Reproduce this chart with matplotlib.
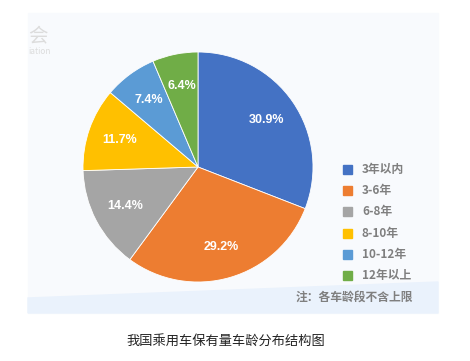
import matplotlib.pyplot as plt
from matplotlib.patches import Rectangle, Polygon

plt.rcParams['font.family'] = ['Noto Sans CJK SC', 'DejaVu Sans']

# car age distribution
labels = ['3年以内', '3-6年', '6-8年', '8-10年', '10-12年', '12年以上']
shares = [30.9, 29.2, 14.4, 11.7, 7.4, 6.4]
colors = ['#4472C4', '#ED7D31', '#A5A5A5', '#FFC000', '#5B9BD5', '#70AD47']
note = '注：各车龄段不含上限'
caption = '我国乘用车保有量车龄分布结构图'

W, H = 470, 361
fig = plt.figure(figsize=(W / 100, H / 100), dpi=100)
fig.patch.set_facecolor('white')

# panel background (in pixel coords via a full-figure axes)
bg = fig.add_axes([0, 0, 1, 1])
bg.set_xlim(0, W)
bg.set_ylim(H, 0)
bg.axis('off')
bg.add_patch(Rectangle((28, 13), 410, 300, color='#f8fafd', zorder=0))
bg.add_patch(Polygon([(28, 298), (438, 282), (438, 313), (28, 313)], color='#eaf2fc', zorder=1))
bg.text(28, 36, '会', fontsize=14, color='#dcdcdc', ha='left', va='center')
bg.text(28, 51, 'iation', fontsize=6, color='#dcdcdc', ha='left', va='center')

# pie
cx, cy, r = 198, 167, 115
pie_ax = fig.add_axes([(cx - r) / W, 1 - (cy + r) / H, 2 * r / W, 2 * r / H])
wedges, texts, autotexts = pie_ax.pie(
    shares, colors=colors, startangle=90, counterclock=False,
    autopct='%.1f%%', pctdistance=0.72,
    wedgeprops=dict(linewidth=0.6, edgecolor='white'),
    textprops=dict(color='white', fontsize=9, fontweight='bold',
                   family=['Liberation Sans', 'DejaVu Sans']))
pie_ax.set_xlim(-1, 1)
pie_ax.set_ylim(-1, 1)
pie_ax.set_aspect('auto')
pie_ax.axis('off')

# legend
for i, (lab, col) in enumerate(zip(labels, colors)):
    y = 169.5 + i * 21.2
    bg.add_patch(Rectangle((343, y - 4.5), 9, 9, color=col, zorder=3))
    bg.text(362, y, lab, fontsize=8.5, fontweight='bold', color='#7f7f7f',
            ha='left', va='center')

bg.text(413, 297, note, fontsize=8.5, fontweight='bold', color='#7f7f7f',
        ha='right', va='center')
bg.text(226, 341, caption, fontsize=9.5, color='#222222', ha='center', va='center')

fig.savefig('out.png', dpi=100)
